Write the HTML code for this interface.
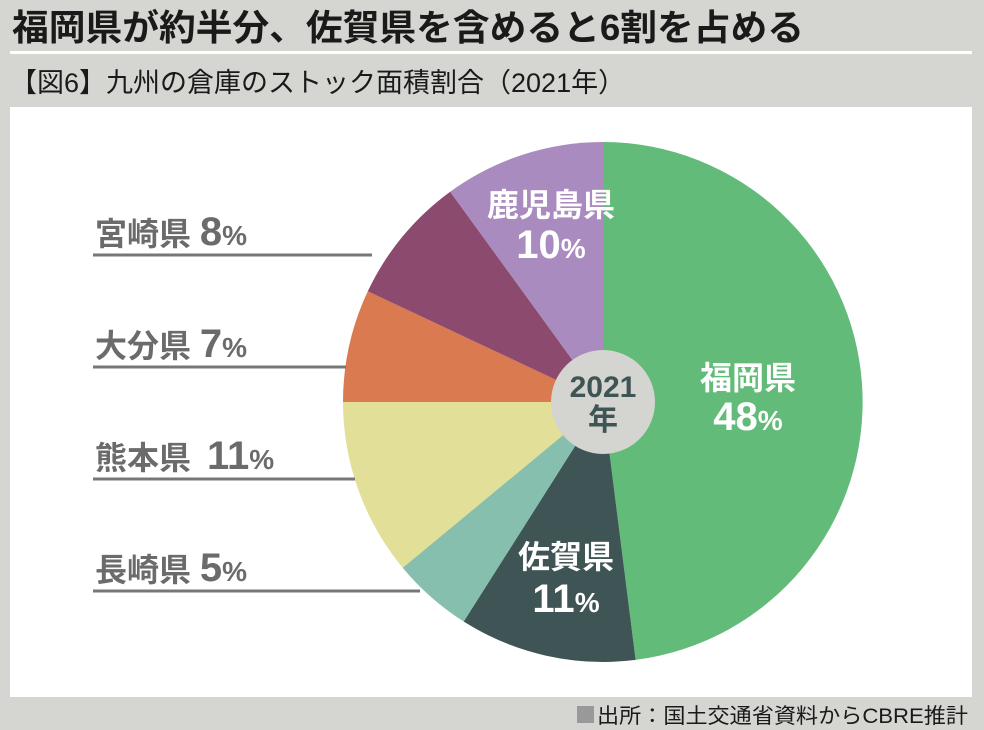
<!DOCTYPE html>
<html><head><meta charset="utf-8"><style>
body{margin:0;width:984px;height:730px;background:#d5d5d1;overflow:hidden;font-family:"Liberation Sans","Noto Sans CJK JP",sans-serif;}
</style></head><body>
<svg width="984" height="730" xmlns="http://www.w3.org/2000/svg" style="position:absolute;left:0;top:0">
<text x="12" y="40" font-size="36" font-weight="bold" fill="#1a1a1a" textLength="792" lengthAdjust="spacingAndGlyphs" font-family="Liberation Sans,Noto Sans CJK JP,sans-serif">福岡県が約半分、佐賀県を含めると6割を占める</text>
<rect x="10" y="51" width="962" height="3" fill="#fff"/>
<text x="10" y="92" font-size="27" fill="#1a1a1a" font-family="Liberation Sans,Noto Sans CJK JP,sans-serif">【図6】九州の倉庫のストック面積割合（2021年）</text>
<rect x="10" y="107" width="962" height="590" fill="#fff"/>
<g stroke="none">
<path d="M603,402 L603,142 A260,260 0 0 1 635.6,659.9 Z" fill="#62bb78"/>
<path d="M603,402 L635.6,659.9 A260,260 0 0 1 463.7,621.5 Z" fill="#3f5454"/>
<path d="M603,402 L463.7,621.5 A260,260 0 0 1 402.7,567.7 Z" fill="#86bfae"/>
<path d="M603,402 L402.7,567.7 A260,260 0 0 1 343,402 Z" fill="#e2df98"/>
<path d="M603,402 L343,402 A260,260 0 0 1 367.8,291.3 Z" fill="#d97a50"/>
<path d="M603,402 L367.8,291.3 A260,260 0 0 1 450.2,191.7 Z" fill="#8d4a6f"/>
<path d="M603,402 L450.2,191.7 A260,260 0 0 1 603,142 Z" fill="#a98bbf"/>
</g>
<circle cx="603" cy="402" r="52" fill="#d4d4d0"/>
<g font-family="Liberation Sans,Noto Sans CJK JP,sans-serif" font-weight="bold" text-anchor="middle">
<text x="603" y="397" font-size="30" fill="#3f5454">2021</text>
<text x="603" y="430" font-size="30" fill="#3f5454">年</text>
<text x="748" y="389" font-size="32" fill="#fff">福岡県</text>
<text x="748" y="430" font-size="40" fill="#fff">48<tspan font-size="28">%</tspan></text>
<text x="566" y="568" font-size="32" fill="#fff">佐賀県</text>
<text x="566" y="612" font-size="40" fill="#fff">11<tspan font-size="28">%</tspan></text>
<text x="551" y="216" font-size="32" fill="#fff">鹿児島県</text>
<text x="551" y="258" font-size="40" fill="#fff">10<tspan font-size="28">%</tspan></text>
</g>
<g fill="#6b6b6b" font-family="Liberation Sans,Noto Sans CJK JP,sans-serif" font-weight="bold">
<text x="95" y="245" font-size="32">宮崎県 <tspan font-size="40">8</tspan><tspan font-size="28">%</tspan></text>
<text x="95" y="357" font-size="32">大分県 <tspan font-size="40">7</tspan><tspan font-size="28">%</tspan></text>
<text x="95" y="469" font-size="32">熊本県 <tspan x="207" font-size="40">11</tspan><tspan font-size="28">%</tspan></text>
<text x="95" y="581" font-size="32">長崎県 <tspan font-size="40">5</tspan><tspan font-size="28">%</tspan></text>
</g>
<g stroke="#777" stroke-width="3">
<line x1="93" y1="255" x2="372" y2="255"/>
<line x1="93" y1="367" x2="346" y2="367"/>
<line x1="93" y1="479" x2="355" y2="479"/>
<line x1="93" y1="591" x2="420" y2="591"/>
</g>
<rect x="577" y="706" width="17" height="17" fill="#999"/>
<text x="597" y="723" font-size="21" fill="#1a1a1a" textLength="371" lengthAdjust="spacingAndGlyphs" font-family="Liberation Sans,Noto Sans CJK JP,sans-serif">出所：国土交通省資料からCBRE推計</text>
</svg>
</body></html>
